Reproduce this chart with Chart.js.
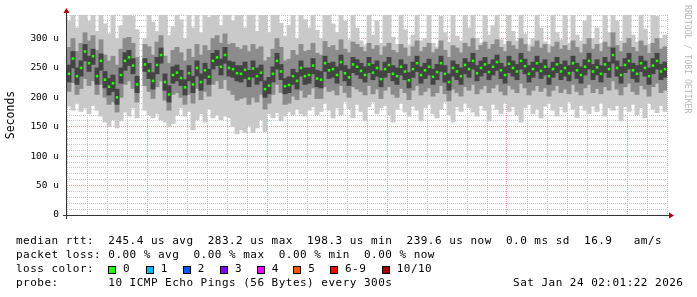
<!DOCTYPE html>
<html lang="en">
<head>
    <meta charset="UTF-8">
    <title>Smokeping - median rtt</title>
    <style>
        body {
            margin: 0;
            background: #fff;
            width: 697px;
            height: 297px;
            overflow: hidden;
            position: relative;
        }
        #chart-container {
            position: absolute;
            left: 0;
            top: 0;
            width: 697px;
            height: 297px;
        }
        #legend {
            position: absolute;
            left: 16px;
            top: 234px;
            font-family: 'DejaVu Sans Mono', monospace;
            font-size: 11px;
            letter-spacing: 0.478px;
            line-height: 14px;
            white-space: pre;
            color: #000;
        }
        .lbox {
            position: absolute;
            width: 8px;
            height: 8px;
            box-sizing: border-box;
            border: 1px solid #000;
        }
        .ltxt {
            position: absolute;
            font-family: 'DejaVu Sans Mono', monospace;
            font-size: 11px;
            letter-spacing: 0.478px;
            line-height: 14px;
            white-space: pre;
        }
    </style>
    <script src="https://cdn.jsdelivr.net/npm/chart.js"></script>
</head>
<body>
    <div id="chart-container">
        <canvas id="smokeChart"></canvas>
    </div>
    <div id="legend">median rtt:  245.4 us avg  283.2 us max  198.3 us min  239.6 us now  0.0 ms sd  16.9   am/s
packet loss: 0.00 % avg  0.00 % max  0.00 % min  0.00 % now
loss color:
probe:       10 ICMP Echo Pings (56 Bytes) every 300s                 Sat Jan 24 02:01:22 2026</div>

    <script>
        // time axis: hours relative to Fri 00:00, one sample every 12 minutes
        const startHour = -3.88;
        const stepHours = 0.2;
        const tickHours = [0, 6, 12, 18, 24];
        const tickLabels = ['Fri 00:00', 'Fri 06:00', 'Fri 12:00', 'Fri 18:00', 'Sat 00:00'];

        // median rtt in microseconds (null = no data)
        const median = [
            240,266,236,250,278,258,270,236,262,230,
            218,224,200,238,262,268,254,222,null,256,
            245,228,255,272,226,205,238,242,233,217,
            241,222,250,226,246,235,262,268,252,272,
            250,248,241,240,247,232,249,236,242,214,
            220,240,262,244,219,221,236,228,250,236,
            238,254,232,230,258,246,248,238,260,241,
            234,256,252,245,238,256,242,250,231,248,
            255,240,236,252,244,229,248,258,238,246,
            252,235,243,258,240,226,250,244,236,255,
            248,262,241,250,256,243,252,260,246,238,
            257,250,244,262,253,240,248,258,245,252,
            236,248,256,244,250,241,258,246,238,252,
            262,244,251,240,256,248,272,250,238,255,
            262,246,240,258,250,236,254,262,244,248
        ];

        // smoke: slowest / fastest ping
        const pingMax = [
            330,345,318,345,345,330,345,312,345,325,
            308,345,300,322,345,345,338,315,null,300,
            345,328,312,345,345,305,320,345,332,300,
            345,318,345,310,345,336,345,345,322,345,
            345,330,345,345,318,345,340,312,345,345,
            310,345,345,326,304,322,345,300,345,332,
            318,345,314,300,345,345,325,310,345,330,
            298,345,318,296,288,345,306,330,292,345,
            340,302,290,345,315,288,306,345,296,300,
            345,292,286,338,310,294,345,304,296,345,
            318,345,300,292,345,306,322,345,298,290,
            345,312,296,340,308,288,300,345,318,294,
            290,345,310,298,345,292,345,306,296,330,
            345,300,318,292,345,310,345,330,296,345,
            345,306,294,345,316,290,345,338,300,306
        ];
        const pingMin = [
            185,178,190,176,182,172,186,178,168,158,
            150,162,148,160,175,168,182,165,null,178,
            170,165,172,162,158,150,155,170,182,168,
            176,145,162,172,158,180,165,170,162,168,
            165,150,138,145,140,152,140,148,162,142,
            172,165,174,160,168,175,170,180,172,168,
            178,184,170,176,190,178,165,182,170,192,
            180,165,188,176,160,184,192,172,182,186,
            170,158,180,190,175,168,185,178,160,182,
            188,172,165,180,192,170,158,184,176,190,
            182,175,168,186,178,160,188,180,172,190,
            176,184,170,158,182,188,172,180,165,185,
            190,178,168,184,175,192,180,166,186,178,
            172,185,176,190,168,182,178,186,160,184,
            176,188,170,182,165,190,180,174,186,176
        ];

        // smoke: 2nd slowest / 2nd fastest ping
        const pingHi2 = [
            285,300,278,292,310,296,305,280,298,272,
            262,270,255,282,300,302,292,268,null,290,
            286,272,294,305,270,258,280,285,276,262,
            282,268,290,272,288,280,300,305,292,308,
            290,292,285,282,288,278,290,282,286,262,
            268,282,300,285,262,265,280,272,290,278,
            280,292,275,272,295,285,288,280,298,282,
            276,294,290,285,278,292,282,288,272,286,
            292,280,276,290,284,270,286,296,278,285,
            292,276,282,296,280,268,288,284,276,292,
            286,300,280,288,294,282,290,298,285,278,
            295,288,282,300,290,278,286,296,284,290,
            276,286,294,282,288,280,296,285,276,290,
            300,282,290,278,294,286,310,288,278,292,
            300,285,278,296,288,275,292,300,282,286
        ];
        const pingLo2 = [
            210,225,205,215,232,220,228,205,222,200,
            188,192,175,200,222,228,215,192,null,220,
            210,198,218,228,195,178,205,208,200,188,
            205,190,215,196,210,202,222,228,215,230,
            212,205,195,198,200,188,200,192,205,180,
            190,205,222,208,188,190,202,196,212,200,
            205,216,198,198,218,210,212,204,220,208,
            200,218,214,210,204,220,206,214,198,212,
            218,205,200,215,208,196,212,220,204,210,
            216,202,208,220,206,194,214,208,202,218,
            212,222,206,214,220,208,216,222,210,204,
            220,214,208,224,216,204,212,220,210,216,
            202,212,220,208,214,206,222,210,204,216,
            222,208,215,206,218,212,228,214,204,218,
            224,210,205,220,214,202,218,224,208,212
        ];

        // smoke: pings around the median
        const pingHi3 = [
            255,278,250,262,290,270,282,250,274,244,
            232,238,214,250,276,280,266,236,null,266,
            258,242,268,284,240,220,252,255,246,230,
            254,236,262,240,258,248,275,280,265,285,
            262,260,254,254,260,246,262,250,255,228,
            234,252,275,256,232,235,248,242,262,250,
            250,266,246,244,270,258,260,252,272,254,
            248,268,264,258,252,268,256,262,245,260,
            268,254,250,264,256,242,260,270,252,258,
            265,248,256,270,254,240,262,256,250,266,
            260,275,254,262,268,256,264,272,258,252,
            270,262,256,275,265,254,260,270,258,264,
            250,260,268,256,262,254,270,258,252,264,
            275,256,264,254,268,260,284,262,252,266,
            275,258,254,270,262,250,266,275,256,260
        ];
        const pingLo3 = [
            226,250,222,236,262,244,256,222,246,216,
            204,210,188,224,246,254,240,208,null,244,
            232,214,240,258,212,192,224,228,220,204,
            228,208,236,212,232,222,248,254,238,258,
            236,234,228,226,232,218,234,222,228,200,
            206,226,248,230,206,208,222,214,236,222,
            224,240,218,216,244,232,234,224,246,228,
            220,242,238,232,226,242,230,236,218,234,
            242,228,222,238,230,216,234,244,224,232,
            238,222,230,244,226,212,236,230,222,240,
            234,248,228,236,242,230,238,246,232,224,
            242,236,230,248,240,226,234,244,232,238,
            222,234,242,230,236,228,244,232,224,238,
            248,230,238,226,242,234,258,236,224,242,
            248,232,226,244,236,222,240,248,230,234
        ];

        const lossLabels = ['0', '1', '2', '3', '4', '5', '6-9', '10/10'];
        const lossColors = ['#26ff00', '#00b8ff', '#0059ff', '#7e00ff', '#ff00ff', '#ff5500', '#ff0000', '#a10000'];

        const times = median.map((_, k) => startHour + k * stepHours);

        function band(lo, hi) {
            return times.map((t, k) => ({ x: t, y: lo[k] == null ? null : [lo[k], hi[k]] }));
        }

        // legend colour boxes for loss
        const lossBoxX = [108, 145.7, 182.7, 220, 256.7, 293.3, 330, 381.7];
        lossLabels.forEach((txt, k) => {
            const box = document.createElement('div');
            box.className = 'lbox';
            box.style.left = lossBoxX[k] + 'px';
            box.style.top = '265.5px';
            box.style.background = lossColors[k];
            document.body.appendChild(box);
            const lab = document.createElement('div');
            lab.className = 'ltxt';
            lab.style.left = (lossBoxX[k] + 15) + 'px';
            lab.style.top = '262px';
            lab.textContent = txt;
            document.body.appendChild(lab);
        });

        // axes with arrows and the rrdtool watermark
        const rrdDecor = {
            id: 'rrdDecor',
            afterDraw(chart) {
                const c = chart.ctx;
                const a = chart.chartArea;
                c.save();
                c.strokeStyle = '#333';
                c.lineWidth = 1;
                c.beginPath();
                c.moveTo(a.left - 0.5, a.bottom + 4);
                c.lineTo(a.left - 0.5, 12);
                c.moveTo(a.left - 4, a.bottom + 0.5);
                c.lineTo(a.right + 2, a.bottom + 0.5);
                c.stroke();
                c.fillStyle = '#b00000';
                c.beginPath();
                c.moveTo(a.left - 0.5, 8);
                c.lineTo(a.left - 3.5, 13);
                c.lineTo(a.left + 2.5, 13);
                c.closePath();
                c.fill();
                c.beginPath();
                c.moveTo(a.right + 7, a.bottom + 0.5);
                c.lineTo(a.right + 2, a.bottom - 2.5);
                c.lineTo(a.right + 2, a.bottom + 3.5);
                c.closePath();
                c.fill();
                c.translate(687, 5);
                c.rotate(Math.PI / 2);
                c.fillStyle = '#b8b8b8';
                c.font = '8.2px "DejaVu Sans Mono"';
                c.textBaseline = 'middle';
                c.fillText('RRDTOOL / TOBI OETIKER', 0, 0);
                c.restore();
            }
        };

        const tickFont = { family: 'DejaVu Sans Mono', size: 9.5 };

        const ctx = document.getElementById('smokeChart').getContext('2d');
        const smokeChart = new Chart(ctx, {
            type: 'bar',
            data: {
                datasets: [
                    {
                        type: 'line',
                        label: 'median',
                        data: times.map((t, k) => ({ x: t, y: median[k] })),
                        showLine: false,
                        pointStyle: 'rect',
                        pointRadius: 1.8,
                        pointBorderWidth: 0,
                        pointBackgroundColor: '#26ff00',
                        order: 0
                    },
                    { label: 'inner', data: band(pingLo3, pingHi3), backgroundColor: '#444444', order: 1 },
                    { label: 'middle', data: band(pingLo2, pingHi2), backgroundColor: '#8c8c8c', order: 2 },
                    { label: 'outer', data: band(pingMin, pingMax), backgroundColor: '#c9c9c9', order: 3 }
                ]
            },
            options: {
                responsive: true,
                maintainAspectRatio: false,
                animation: false,
                layout: { padding: { left: 0, top: 15, right: 30, bottom: 62 } },
                datasets: {
                    bar: { grouped: false, barThickness: 4.3, borderWidth: 0 }
                },
                plugins: {
                    legend: { display: false },
                    tooltip: { enabled: false }
                },
                scales: {
                    x: {
                        type: 'linear',
                        min: -3.98,
                        max: 26.02,
                        offset: false,
                        afterFit: (s) => { s.height = 20; },
                        grid: {
                            offset: false,
                            drawTicks: false,
                            color: (c) => {
                                const v = Math.round(c.tick.value);
                                return v % 6 === 0 ? '#e79a9a' : '#c4c4c4';
                            }
                        },
                        border: { display: false, dash: [1, 1] },
                        ticks: {
                            stepSize: 1,
                            includeBounds: false,
                            autoSkip: false,
                            maxRotation: 0,
                            padding: 5,
                            color: '#000',
                            font: tickFont,
                            callback: (v) => {
                                const k = tickHours.indexOf(Math.round(v));
                                return k >= 0 && Math.abs(v - Math.round(v)) < 1e-6 ? tickLabels[k] : '';
                            }
                        }
                    },
                    y: {
                        min: 0,
                        max: 340,
                        afterFit: (s) => { s.width = 67; },
                        grid: {
                            drawTicks: false,
                            color: (c) => {
                                const v = c.tick.value;
                                if (v === 0) return 'rgba(0,0,0,0)';
                                return v % 50 === 0 ? '#e79a9a' : '#c4c4c4';
                            }
                        },
                        border: { display: false, dash: [1, 1] },
                        title: {
                            display: true,
                            text: 'Seconds',
                            color: '#000',
                            font: { family: 'DejaVu Sans Mono', size: 11.5 },
                            padding: { top: 4, bottom: 0 }
                        },
                        ticks: {
                            stepSize: 10,
                            autoSkip: false,
                            padding: 8,
                            color: '#000',
                            font: tickFont,
                            callback: (v) => v === 0 ? '0' : (v % 50 === 0 ? v + ' u' : '')
                        }
                    }
                }
            },
            plugins: [rrdDecor]
        });
    </script>
</body>
</html>
